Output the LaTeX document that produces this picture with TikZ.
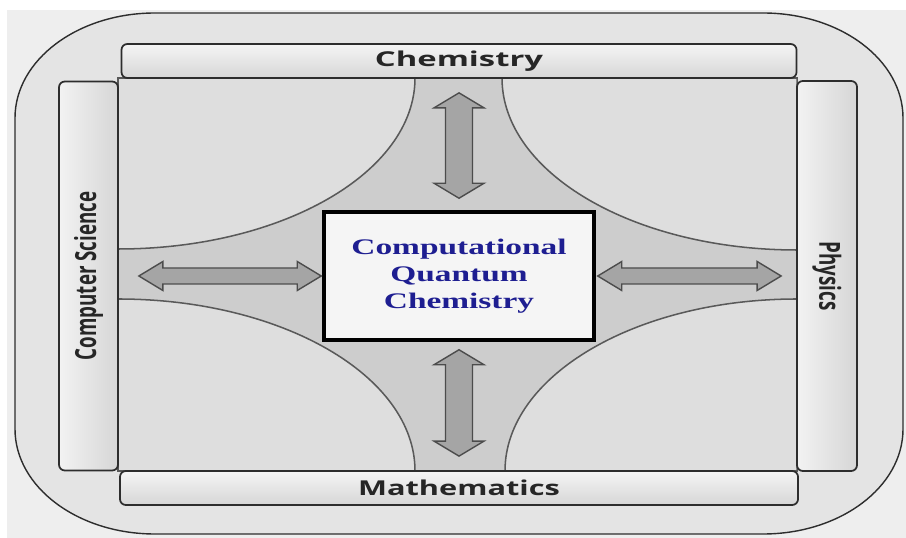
\documentclass[tikz,border=0pt]{standalone}
\usepackage{fontspec}
\usetikzlibrary{positioning,calc}

\newfontfamily\barfont{Open Sans}
\newfontfamily\cqcfont{Liberation Serif}

\definecolor{latar}{RGB}{238,238,238}
\definecolor{bingkai}{RGB}{228,228,228}
\definecolor{seperempat}{RGB}{222,222,222}
\definecolor{silang}{RGB}{205,205,205}
\definecolor{garis}{RGB}{45,45,45}
\definecolor{panahisi}{RGB}{165,165,165}
\definecolor{teksbiru}{RGB}{30,30,145}

% panah blok dua arah: tegak (atas ke bawah) dan mendatar (kiri ke kanan)
\newcommand{\panahV}[2]{%
  \draw[panahblok] (#1) -- ++(25,-15) -- ++(-11.5,0) -- ($(#2)+(13.5,15)$) -- ++(11.5,0) -- (#2)
    -- ++(-25,15) -- ++(11.5,0) -- ($(#1)+(-13.5,-15)$) -- ++(-11.5,0) -- cycle;}
\newcommand{\panahH}[2]{%
  \draw[panahblok] (#1) -- ++(24,14.5) -- ++(0,-6.5) -- ($(#2)+(-24,8)$) -- ++(0,6.5) -- (#2)
    -- ++(-24,-14.5) -- ++(0,6.5) -- ($(#1)+(24,-8)$) -- ++(0,-6.5) -- cycle;}

\begin{document}
\begin{tikzpicture}[x=0.03cm, y=0.03cm,
  barboxH/.style={draw=garis, line width=1.5pt, rounded corners=5pt, top color=gray!8, bottom color=gray!32,
    text=black!85, inner sep=0pt, font=\barfont\bfseries\fontsize{17.5}{20}\selectfont},
  barboxV/.style={draw=garis, line width=1.5pt, rounded corners=5pt, left color=gray!10, right color=gray!32,
    text=black!85, inner sep=0pt, font=\barfont\bfseries\fontsize{16}{18}\selectfont},
  quarter/.style={fill=seperempat, draw=black!65, line width=1.3pt},
  panahblok/.style={fill=panahisi, draw=black!70, line width=1.2pt, line join=miter},
  kotakpusat/.style={draw=black, line width=3pt, fill=latar!60!white, minimum width=8.1cm, minimum height=3.84cm,
    text=teksbiru, font=\cqcfont\bfseries\fontsize{19}{23}\selectfont}]

  \useasboundingbox (0,0) rectangle (906,538);

  % latar belakang dan bingkai luar
  \fill[latar] (0,0) rectangle (906,538);
  \fill[white] (0,528) rectangle (906,538);
  \fill[white] (0,0) rectangle (7,528);
  \filldraw[fill=bingkai, draw=garis, line width=1.2pt] (155,525) -- (763,525)
    arc[start angle=90, end angle=0, x radius=140, y radius=105] -- (903,109)
    arc[start angle=0, end angle=-90, x radius=140, y radius=105] -- (155,4)
    arc[start angle=270, end angle=180, x radius=140, y radius=105] -- (15,420)
    arc[start angle=180, end angle=90, x radius=140, y radius=105] -- cycle;

  % daerah silang dan empat daerah seperempat elips
  \fill[silang] (118,67) rectangle (797,460);
  \filldraw[quarter] (118,460) -- (415,460) arc[start angle=0, end angle=-90, x radius=297, y radius=171] -- cycle;
  \filldraw[quarter] (797,460) -- (502,460) arc[start angle=180, end angle=270, x radius=295, y radius=172] -- cycle;
  \filldraw[quarter] (118,67) -- (415,67) arc[start angle=0, end angle=90, x radius=297, y radius=172] -- cycle;
  \filldraw[quarter] (797,67) -- (505,67) arc[start angle=180, end angle=90, x radius=292, y radius=172] -- cycle;

  % batang bidang ilmu
  \node[barboxH, minimum width=20.25cm, minimum height=1.02cm] (chem) at (459,477) {\scalebox{1.6}[1]{Chemistry}};
  \node[barboxH, minimum width=20.34cm, minimum height=1.02cm] (math) at (459,50) {\scalebox{1.5}[1]{Mathematics}};
  \node[barboxV, minimum width=1.77cm, minimum height=11.67cm] (cs) at (88.5,262) {\rotatebox{90}{\scalebox{1}[1.55]{Computer Science}}};
  \node[barboxV, minimum width=1.8cm, minimum height=11.7cm] (phys) at (827,262) {\rotatebox{-90}{\scalebox{1}[1.55]{Physics}}};

  % kotak pusat
  \node[kotakpusat] (cqc) at (459,262) {\scalebox{1.5}[1]{\begin{tabular}{@{}c@{}}Computational\\Quantum\\Chemistry\end{tabular}}};

  % ujung-ujung panah
  \coordinate (atas1) at ($(chem.south)+(0,-14)$);
  \coordinate (atas2) at ($(cqc.north)+(0,12)$);
  \coordinate (bawah1) at ($(cqc.south)+(0,-8)$);
  \coordinate (bawah2) at ($(math.north)+(0,14)$);
  \coordinate (kiri1) at ($(cs.east)+(20,0)$);
  \coordinate (kiri2) at ($(cqc.west)+(-1,0)$);
  \coordinate (kanan1) at ($(cqc.east)+(2,0)$);
  \coordinate (kanan2) at ($(phys.west)+(-15,0)$);

  % panah dua arah
  \panahV{atas1}{atas2}
  \panahV{bawah1}{bawah2}
  \panahH{kiri1}{kiri2}
  \panahH{kanan1}{kanan2}

\end{tikzpicture}
\end{document}
